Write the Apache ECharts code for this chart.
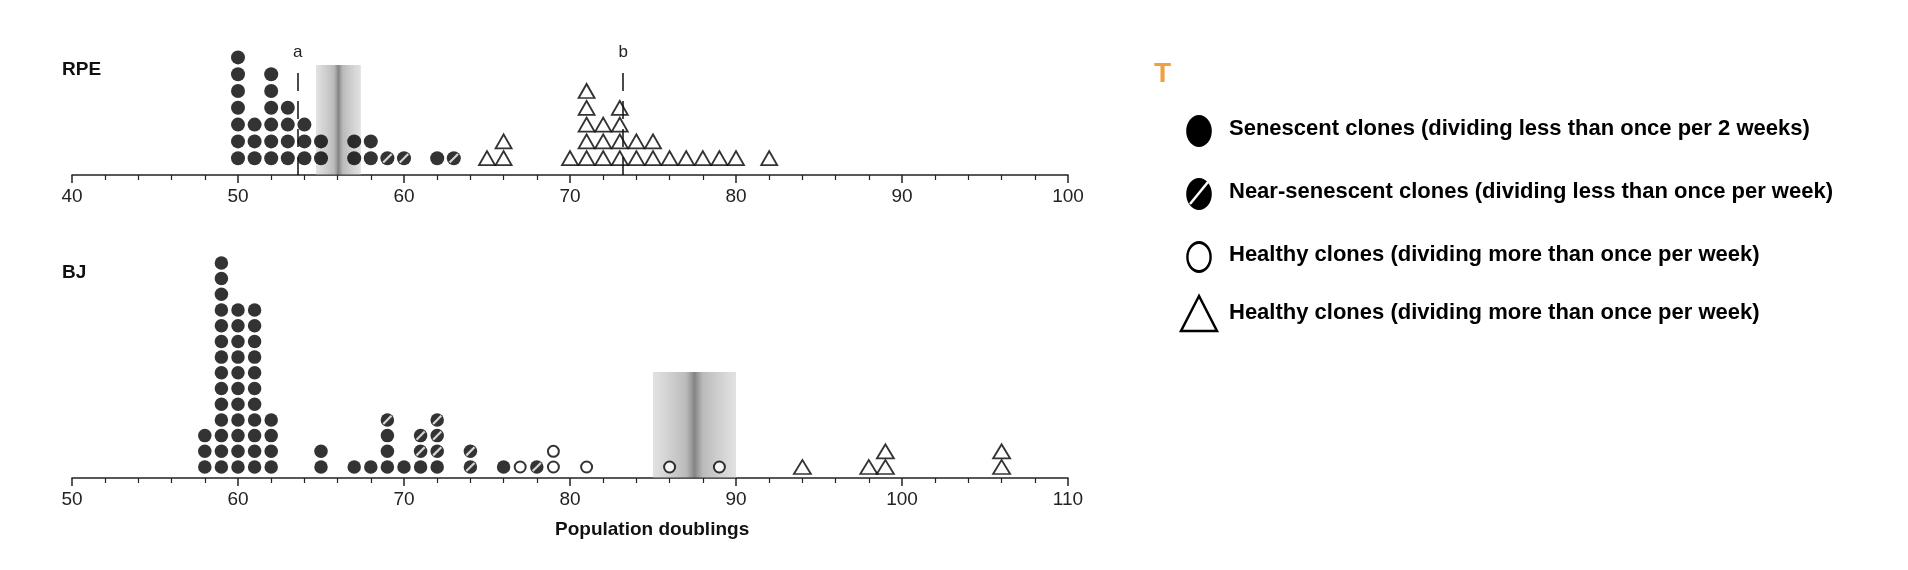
<!DOCTYPE html>
<html><head><meta charset="utf-8">
<script src="https://cdn.jsdelivr.net/npm/echarts@6/dist/echarts.min.js"></script>
<style>html,body{margin:0;padding:0;background:#fff}#c{width:1908px;height:570px}</style>
</head><body><div id="c"></div>
<script>
// [population doublings, number of clones]
const rpeSenescent = [[50,7],[51,3],[52,6],[53,4],[54,3],[55,2],[57,2],[58,2],[62,1]];
const rpeNear = [[59,1],[60,1],[63,1]];
const rpeHealthyCircle = [];
const rpeTriangle = [[65,1],[66,2],[70,1],[71,5],[72,3],[73,4],[74,2],[75,2],[76,1],[77,1],[78,1],[79,1],[80,1],[82,1]];
const bjSenescent = [[58,3],[59,14],[60,11],[61,11],[62,4],[65,2],[67,1],[68,1],[69,3],[70,1],[71,1],[72,1],[76,1]];
const bjNear = [[69,1],[71,2],[72,3],[74,2],[78,1]];
const bjHealthyCircle = [[77,1],[79,2],[81,1],[86,1],[89,1]];
const bjTriangle = [[94,1],[98,1],[99,2],[106,2]];
const rpeMarks = [['a',53.6],['b',73.2]];
const bjMarks = [['a',64],['b',100.3]];
const rpeShade = [54.7,57.4];
const bjShade = [85,90];
const rpeTicks = [40,100];
const bjTicks = [50,110];
const legendLabels = ['Senescent clones (dividing less than once per 2 weeks)','Near-senescent clones (dividing less than once per week)','Healthy clones (dividing more than once per week)','Healthy clones (dividing more than once per week)'];

function stack(groups, base){
  const h = {}; const out = [];
  groups.forEach(g=>{ const pts=[]; g.forEach(([x,n])=>{ for(let i=0;i<n;i++){ h[x]=(h[x]||0)+1; pts.push([x,h[x]-base]); } }); out.push(pts); });
  return out;
}
const rpe = stack([rpeSenescent,rpeNear,rpeHealthyCircle,rpeTriangle],0);
const bj = stack([bjSenescent,bjNear,bjHealthyCircle,bjTriangle],0);

const shadeColor = {type:'linear',x:0,y:0,x2:1,y2:0,colorStops:[
  {offset:0,color:'rgba(190,190,190,0.45)'},{offset:0.4,color:'rgba(140,140,140,0.6)'},
  {offset:0.5,color:'rgba(90,90,90,0.75)'},{offset:0.6,color:'rgba(140,140,140,0.6)'},{offset:1,color:'rgba(190,190,190,0.45)'}]};

function panel(idx, pts, sizes, marks, shade, shadeTop, lineTop){
  const base = {xAxisIndex:idx,yAxisIndex:idx,type:'scatter',silent:true,animation:false};
  return [
    Object.assign({},base,{data:pts[0],symbol:'circle',symbolSize:sizes.c,itemStyle:{color:'#000'},z:3,
      markArea:{silent:true,itemStyle:{color:shadeColor},data:[[{coord:[shade[0],0]},{coord:[shade[1],shadeTop]}]]},
      markLine:{silent:true,symbol:'none',animation:false,
        lineStyle:{color:'#111',type:[18,10],width:1.5},
        label:{show:true,position:'end',formatter:'{b}',color:'#222',fontSize:17,fontFamily:'Liberation Sans',distance:3},
        data:marks.map(([n,x])=>[{name:n,coord:[x,0]},{coord:[x,lineTop]}])}}),
    Object.assign({},base,{data:pts[1],symbol:'circle',symbolSize:sizes.c,itemStyle:{color:'#000'},z:3}),
    Object.assign({},base,{data:pts[1],symbol:'rect',symbolSize:[2.2,sizes.c-2],symbolRotate:-45,itemStyle:{color:'#fff'},z:4}),
    Object.assign({},base,{data:pts[2],symbol:'circle',symbolSize:sizes.o,itemStyle:{color:'#fff',borderColor:'#000',borderWidth:2},z:3}),
    Object.assign({},base,{data:pts[3],symbol:'triangle',symbolSize:sizes.t,itemStyle:{color:'#fff',borderColor:'#000',borderWidth:1.8},z:3})
  ];
}
function xAx(idx,r){
  return {gridIndex:idx,type:'value',min:r[0],max:r[1],interval:10,
    axisLine:{lineStyle:{color:'#222',width:1.5}},
    axisTick:{show:true,length:8,inside:false,lineStyle:{color:'#222',width:1.5}},
    minorTick:{show:true,splitNumber:5,length:5,lineStyle:{color:'#222',width:1.2}},
    splitLine:{show:false},
    axisLabel:{fontSize:19,color:'#222',fontFamily:'Liberation Sans',margin:12}};
}
function yAx(idx,min,max){return {gridIndex:idx,type:'value',min:min,max:max,show:false};}

const legendY=[131,194,257,315];
const graphic=[
  {type:'text',left:62,top:60,style:{text:'RPE',font:'bold 19px "Liberation Sans"',fill:'#111'}},
  {type:'text',left:62,top:263,style:{text:'BJ',font:'bold 19px "Liberation Sans"',fill:'#111'}},
  {type:'text',left:555,top:520,style:{text:'Population doublings',font:'bold 19px "Liberation Sans"',fill:'#111'}},
  {type:'text',left:1154,top:60,style:{text:'T',font:'bold 28px "Liberation Sans"',fill:'#F0A040'}},
  {type:'circle',shape:{cx:1199,cy:legendY[0],r:16},scaleX:0.8,originX:1199,originY:legendY[0],style:{fill:'#000'}},
  {type:'circle',shape:{cx:1199,cy:legendY[1],r:15},scaleX:0.8,originX:1199,originY:legendY[1],style:{fill:'#000',stroke:'#000',lineWidth:2}},
  {type:'line',shape:{x1:1190,y1:legendY[1]+10,x2:1208,y2:legendY[1]-12},style:{stroke:'#fff',lineWidth:2.5}},
  {type:'circle',shape:{cx:1199,cy:legendY[2],r:14.5},scaleX:0.8,originX:1199,originY:legendY[2],style:{fill:'#fff',stroke:'#000',lineWidth:3}},
  {type:'polygon',shape:{points:[[1199,legendY[3]-19],[1181,legendY[3]+16],[1217,legendY[3]+16]]},style:{fill:'#fff',stroke:'#000',lineWidth:2.5}}
];
legendLabels.forEach((t,i)=>graphic.push({type:'text',left:1229,top:legendY[i]-13,style:{text:t,font:'bold 22px "Liberation Sans Narrow", "Liberation Sans"',fill:'#000'}}));

const chart=echarts.init(document.getElementById('c'));
chart.setOption({
  animation:false,
  grid:[{left:72,width:996,top:40.6,height:134.4},{left:72,width:996,top:247.2,height:230.8}],
  xAxis:[xAx(0,rpeTicks),xAx(1,bjTicks)],
  yAxis:[yAx(0,0,8),yAx(1,0.3,15)],
  graphic:graphic,
  series:[].concat(panel(0,rpe,{c:14,o:12,t:[16,14]},rpeMarks,rpeShade,6.55,6.6),
                   panel(1,bj,{c:13.5,o:11,t:[17,14]},bjMarks,bjShade,7.05,7.2))
});
</script></body></html>
